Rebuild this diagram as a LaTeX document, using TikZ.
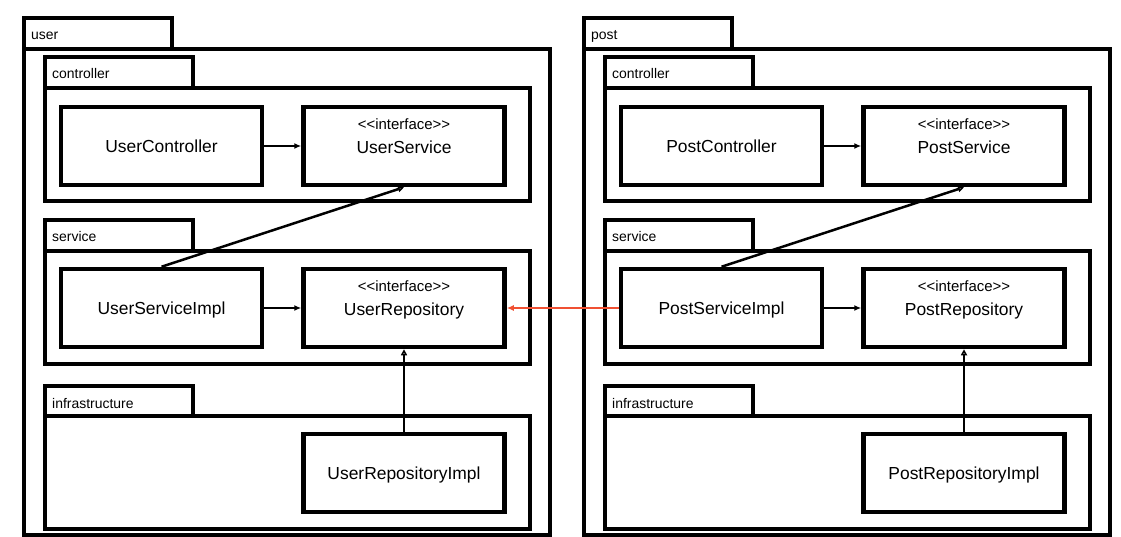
\documentclass[tikz,border=0pt]{standalone}
\usepackage{fontspec}
\setmainfont{Liberation Sans}
\usetikzlibrary{arrows.meta}
\definecolor{depred}{RGB}{240,80,50}
\tikzset{
  frame/.style={draw=black, line width=4bp, fill=white},
  box/.style={draw=black, line width=4.5bp, fill=white, minimum width=201bp, minimum height=78bp, inner sep=0pt, font=\fontsize{17.5}{20}\selectfont},
  lbl/.style={anchor=base west, inner sep=0pt, font=\fontsize{14}{16}\selectfont},
  stereo/.style={anchor=base, inner sep=0pt, font=\fontsize{15}{17}\selectfont},
  cname/.style={anchor=base, inner sep=0pt, font=\fontsize{17.5}{20}\selectfont},
  dep/.style={line width=2.5bp, -{Latex[length=7bp,width=6bp]}},
  real/.style={line width=2.5bp, -{Triangle[open,length=6bp,width=6bp,line width=1.5bp]}},
}
\newcommand\stereotxt{{<}{<}interface{>}{>}}
\newcommand\pkgdraw[4]{%
  \begin{scope}[xshift=#2bp]
    \draw[frame] (24,18) rectangle (172,49);
    \draw[frame] (24,49) rectangle (550,535);
    \node[lbl] (#1lbl) at (31,40) {#4};
    % controller
    \draw[frame] (45,57) rectangle (193,88);
    \draw[frame] (45,88) rectangle (530,201);
    \node[lbl] (#1ctllbl) at (52,79) {controller};
    \node[box] (#1ctl) at (161.5,146) {};
    \node[cname] (#1ctlname) at (161.5,152.5) {#3Controller};
    \node[box] (#1svc) at (404,146) {};
    \node[stereo] (#1svcst) at (404,130) {\stereotxt};
    \node[cname] (#1svcname) at (404,153.5) {#3Service};
    % service
    \draw[frame] (45,220) rectangle (193,251);
    \draw[frame] (45,251) rectangle (530,364);
    \node[lbl] (#1svclbl) at (52,242) {service};
    \node[box] (#1simpl) at (161.5,308) {};
    \node[cname] (#1simplname) at (161.5,314.5) {#3ServiceImpl};
    \node[box] (#1repo) at (404,308) {};
    \node[stereo] (#1repost) at (404,292) {\stereotxt};
    \node[cname] (#1reponame) at (404,315.5) {#3Repository};
    % infrastructure
    \draw[frame] (45,386) rectangle (193,416);
    \draw[frame] (45,416) rectangle (530,529);
    \node[lbl] (#1inflbl) at (52,408) {infrastructure};
    \node[box] (#1rimpl) at (404,473) {};
    \node[cname] (#1rimplname) at (404,479.5) {#3RepositoryImpl};
    % connectors
    \draw[dep] (#1ctl.east) -- (#1svc.west);
    \draw[dep] (#1simpl.east) -- (#1repo.west);
    \draw[real] (#1simpl.north) -- (#1svc.south);
    \draw[real] (#1rimpl.north) -- (#1repo.south);
  \end{scope}}
\begin{document}
\begin{tikzpicture}[x=1bp,y=-1bp]
  \useasboundingbox (0,0) rectangle (1121,537);
  \fill[white] (0,0) rectangle (1121,537);
  \pkgdraw{u}{0}{User}{user}
  \pkgdraw{p}{560}{Post}{post}
  \draw[line width=2.5bp, depred, -{Latex[length=7bp,width=6bp]}] (psimpl.west) -- (urepo.east);
\end{tikzpicture}
\end{document}
